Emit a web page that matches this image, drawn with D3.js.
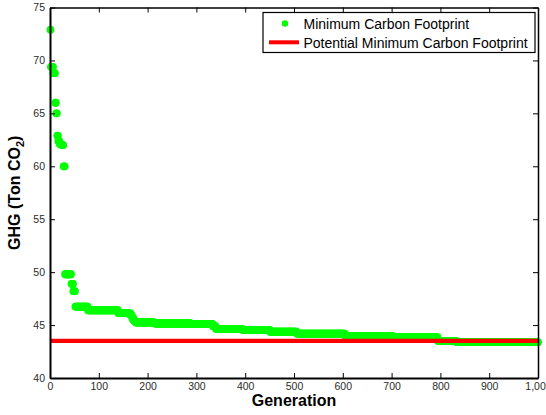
<!DOCTYPE html>
<html>
<head>
<meta charset="utf-8">
<script src="https://cdn.jsdelivr.net/npm/d3@7"></script>
<style>
  html, body { margin: 0; padding: 0; background: #fff; }
  svg { display: block; font-family: "Liberation Sans", Arial, sans-serif; }
</style>
</head>
<body>
<svg id="chart" width="546" height="415"></svg>
<script>
// Best-so-far carbon footprint: generation at which each level is reached, and its value
const stepGeneration = [1, 2, 7, 11, 13, 15, 17, 20, 24, 28, 31, 44, 48, 52, 78, 140, 160,
  166, 169, 172, 176, 215, 290, 334, 340, 395, 451, 506, 605, 703, 795, 834];
const stepValue = [72.9, 69.4, 68.8, 66.0, 65.0, 62.9, 62.4, 62.1, 62.0, 60.0, 49.8, 48.9, 48.2, 46.75, 46.4, 46.15, 46.1,
  45.9, 45.6, 45.4, 45.25, 45.15, 45.1, 44.9, 44.65, 44.55, 44.37, 44.2, 43.97, 43.85, 43.5, 43.38];
const lastGeneration = 1000;
const potentialMinimum = 43.5;

const xTicks = [0, 100, 200, 300, 400, 500, 600, 700, 800, 900, 1000];
const yTicks = [40, 45, 50, 55, 60, 65, 70, 75];
const legendLabels = ["Minimum Carbon Footprint", "Potential Minimum Carbon Footprint"];

// One point per generation, holding the best value found so far
const points = [];
let k = 0;
for (let g = stepGeneration[0]; g <= lastGeneration; g++) {
  while (k + 1 < stepGeneration.length && stepGeneration[k + 1] <= g) k++;
  points.push({ g, v: stepValue[k] });
}

const svg = d3.select("#chart");
const plotLeft = 50, plotRight = 538, plotTop = 7.5, plotBottom = 378;

const x = d3.scaleLinear().domain([0, 1000]).range([plotLeft, plotRight]);
const y = d3.scaleLinear().domain([40, 75]).range([plotBottom, plotTop]);

// Data markers
svg.append("g")
  .selectAll("circle")
  .data(points)
  .join("circle")
  .attr("cx", d => x(d.g))
  .attr("cy", d => y(d.v))
  .attr("r", 3.9)
  .attr("fill", "#00ff00");

// Potential minimum reference line
svg.append("line")
  .attr("x1", x(0)).attr("x2", x(1000))
  .attr("y1", y(potentialMinimum)).attr("y2", y(potentialMinimum))
  .attr("stroke", "#ff0000")
  .attr("stroke-width", 4.2);

// Axes with inward ticks on all four sides
const tickLen = 5;
const labelColor = "#2b2b2b";
const tickFont = 10.5;

const xAxisBottom = d3.axisBottom(x).tickValues(xTicks).tickSizeInner(-tickLen).tickSizeOuter(0).tickPadding(4.5);
const gxb = svg.append("g").attr("transform", `translate(0,${plotBottom})`).call(xAxisBottom);
gxb.select(".domain").attr("stroke", "#000").attr("stroke-width", 2);
gxb.selectAll(".tick line").attr("stroke", "#000").attr("stroke-width", 1);
gxb.selectAll("text").attr("fill", labelColor).attr("font-size", tickFont).attr("font-family", "Liberation Sans, Arial, sans-serif");

const xAxisTop = d3.axisTop(x).tickValues(xTicks).tickSizeInner(-tickLen).tickSizeOuter(0).tickFormat("");
const gxt = svg.append("g").attr("transform", `translate(0,${plotTop})`).call(xAxisTop);
gxt.select(".domain").attr("stroke", "#000").attr("stroke-width", 1.5);
gxt.selectAll(".tick line").attr("stroke", "#000");

const yAxisLeft = d3.axisLeft(y).tickValues(yTicks).tickSizeInner(-tickLen).tickSizeOuter(0).tickPadding(5);
const gyl = svg.append("g").attr("transform", `translate(${plotLeft},0)`).call(yAxisLeft);
gyl.select(".domain").attr("stroke", "#000").attr("stroke-width", 2);
gyl.selectAll(".tick line").attr("stroke", "#000");
gyl.selectAll("text").attr("fill", labelColor).attr("font-size", tickFont).attr("font-family", "Liberation Sans, Arial, sans-serif");

const yAxisRight = d3.axisRight(y).tickValues(yTicks).tickSizeInner(-tickLen).tickSizeOuter(0).tickFormat("");
const gyr = svg.append("g").attr("transform", `translate(${plotRight},0)`).call(yAxisRight);
gyr.select(".domain").attr("stroke", "#000").attr("stroke-width", 1.5);
gyr.selectAll(".tick line").attr("stroke", "#000");

// Axis titles
svg.append("text")
  .attr("x", (plotLeft + plotRight) / 2)
  .attr("y", 406)
  .attr("text-anchor", "middle")
  .attr("font-size", 16)
  .attr("font-weight", "bold")
  .attr("fill", "#000")
  .text("Generation");

const yTitle = svg.append("text")
  .attr("transform", `translate(20,${(plotTop + plotBottom) / 2}) rotate(-90)`)
  .attr("text-anchor", "middle")
  .attr("font-size", 16)
  .attr("font-weight", "bold")
  .attr("fill", "#000");
yTitle.append("tspan").text("GHG (Ton CO");
yTitle.append("tspan").attr("font-size", 11).attr("dy", 4).text("2");
yTitle.append("tspan").attr("dy", -4).text(")");

// Legend
const legend = svg.append("g");
legend.append("rect")
  .attr("x", 263).attr("y", 12.5)
  .attr("width", 272).attr("height", 40)
  .attr("fill", "#fff")
  .attr("stroke", "#000")
  .attr("stroke-width", 1.2);
legend.append("circle")
  .attr("cx", 285).attr("cy", 23.5).attr("r", 3.2)
  .attr("fill", "#00ff00");
legend.append("line")
  .attr("x1", 269).attr("x2", 299)
  .attr("y1", 42.3).attr("y2", 42.3)
  .attr("stroke", "#ff0000").attr("stroke-width", 4);
legend.selectAll("text.label")
  .data(legendLabels)
  .join("text")
  .attr("class", "label")
  .attr("x", 303.5)
  .attr("y", (d, i) => 28.5 + i * 19)
  .attr("font-size", 14)
  .attr("fill", "#000")
  .text(d => d);
</script>
</body>
</html>
